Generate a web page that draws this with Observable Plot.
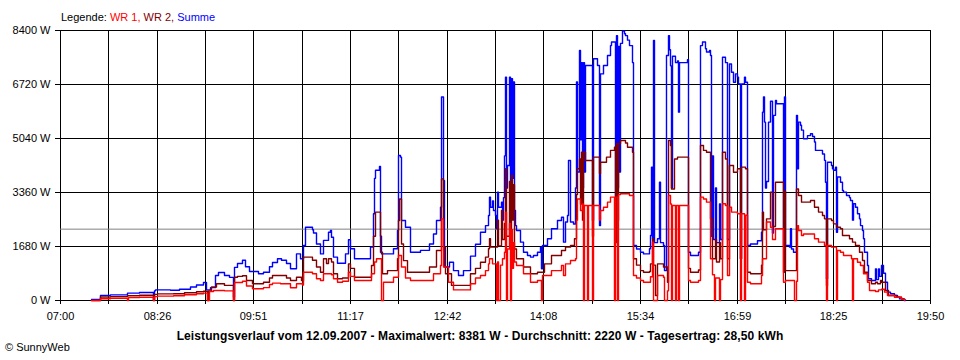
<!DOCTYPE html>
<html>
<head>
<meta charset="utf-8">
<script src="https://cdn.jsdelivr.net/npm/d3@7"></script>
<script src="https://cdn.jsdelivr.net/npm/@observablehq/plot@0.6"></script>
<style>
  body { margin: 0; background: #fff; }
  #wrap { position: relative; width: 960px; height: 360px; font-family: "Liberation Sans", Arial, sans-serif; color: #000; }
  #wrap svg { position: absolute; left: 0; top: 0; }
  #legend { position: absolute; left: 61px; top: 11px; font-size: 11px; line-height: 13px; white-space: nowrap; }
  #caption { position: absolute; left: 0; width: 960px; top: 329px; text-align: center; font-weight: bold; font-size: 12px; line-height: 14px; letter-spacing: 0.1px; white-space: nowrap; }
  #copy { position: absolute; left: 5px; top: 341px; font-size: 11px; line-height: 13px; }
</style>
</head>
<body>
<div id="wrap">
  <div id="legend"></div>
  <div id="caption"></div>
  <div id="copy"></div>
</div>
<script>
// ---- Data (time of day, watts) ----
const summe = [["07:27",30],["07:35",160],["07:44",175],["07:59",230],["08:10",250],["08:22",30],["08:23",300],["08:24",330],["08:37",320],["08:45",350],["08:55",420],["09:00",480],["09:07",560],["09:09",330],["09:13",400],["09:17",780],["09:20",870],["09:25",780],["09:30",720],["09:33",100],["09:34",1030],["09:37",1150],["09:41",1250],["09:44",1050],["09:47",900],["09:55",830],["10:00",880],["10:05",1050],["10:08",1180],["10:12",1300],["10:16",1250],["10:20",1150],["10:24",990],["10:29",1450],["10:32",1300],["10:35",1710],["10:37",2280],["10:43",2200],["10:44",2100],["10:47",1760],["10:50",1450],["10:53",1870],["10:57",2125],["10:59",2180],["11:00",1970],["11:02",1350],["11:05",1160],["11:10",1160],["11:12",1450],["11:15",1890],["11:17",1610],["11:20",1300],["11:31",1300],["11:34",1660],["11:37",2700],["11:38",3800],["11:39",4050],["11:42",4170],["11:43",2000],["11:44",1450],["11:49",1450],["11:55",1610],["11:58",2180],["11:59",4510],["12:01",4460],["12:02",2490],["12:05",2280],["12:10",1500],["12:19",1560],["12:27",1760],["12:30",2070],["12:33",2490],["12:36",2900],["12:37",6330],["12:39",3730],["12:40",1040],["12:44",1190],["12:48",930],["12:52",780],["12:57",930],["13:03",1380],["13:07",1750],["13:12",2125],["13:16",2330],["13:19",2645],["13:20",3215],["13:21",2900],["13:22",3100],["13:23",2800],["13:25",2645],["13:26",2230],["13:27",3370],["13:28",2900],["13:30",3060],["13:31",2500],["13:32",3200],["13:33",4500],["13:34",6950],["13:35",3500],["13:36",4200],["13:37",6950],["13:38",3000],["13:39",6900],["13:40",3800],["13:41",6800],["13:42",2800],["13:43",2330],["13:44",2180],["13:47",1815],["13:50",1500],["13:53",1400],["13:56",1350],["13:59",1400],["14:02",1500],["14:05",1660],["14:06",985],["14:07",1710],["14:11",1920],["14:15",2230],["14:20",2490],["14:23",2590],["14:25",1815],["14:27",2440],["14:29",2645],["14:30",4355],["14:31",2440],["14:34",2380],["14:36",3500],["14:37",6800],["14:38",4000],["14:39",7780],["14:40",5000],["14:41",7400],["14:42",3500],["14:43",7400],["14:44",4000],["14:45",7310],["14:50",7310],["14:51",2500],["14:52",7520],["14:55",7310],["14:57",2330],["14:58",7050],["15:01",7310],["15:04",7620],["15:07",7930],["15:08",8040],["15:10",8040],["15:11",2000],["15:12",8240],["15:13",3500],["15:14",7900],["15:15",4000],["15:16",8000],["15:17",8381],["15:19",8300],["15:20",8240],["15:22",8100],["15:24",7930],["15:26",7400],["15:27",1710],["15:30",1600],["15:33",1500],["15:36",1450],["15:41",1610],["15:42",2020],["15:43",4150],["15:44",1920],["15:45",8090],["15:46",1800],["15:48",1920],["15:50",3680],["15:51",1800],["15:54",1710],["15:55",930],["15:56",7620],["15:58",8240],["15:59",7800],["16:00",7300],["16:01",3500],["16:02",7600],["16:04",7400],["16:06",7450],["16:07",5860],["16:08",7400],["16:15",7490],["16:16",1500],["16:18",1400],["16:25",1500],["16:26",7930],["16:28",8040],["16:31",7830],["16:32",7730],["16:34",7780],["16:35",7620],["16:36",2000],["16:37",4500],["16:38",1900],["16:40",3500],["16:41",1800],["16:43",3000],["16:44",1900],["16:46",7570],["16:49",7400],["16:50",1900],["16:52",7360],["16:54",7100],["16:56",6790],["16:57",7050],["16:59",6950],["17:00",6740],["17:02",1300],["17:03",6740],["17:05",6950],["17:06",6790],["17:08",1710],["17:11",1760],["17:14",1760],["17:17",1860],["17:20",2125],["17:21",5860],["17:22",6330],["17:23",5550],["17:24",3500],["17:25",3700],["17:27",5550],["17:28",6200],["17:30",2100],["17:31",5760],["17:33",6220],["17:34",6120],["17:39",6120],["17:40",1710],["17:41",6330],["17:42",1710],["17:45",1660],["17:46",2230],["17:47",1600],["17:49",1500],["17:51",5760],["17:52",4100],["17:53",5550],["17:55",5450],["17:56",5300],["17:58",5030],["18:01",5130],["18:04",5190],["18:06",5100],["18:07",4930],["18:08",4670],["18:13",4670],["18:14",4560],["18:16",4360],["18:17",3680],["18:18",675],["18:19",4300],["18:22",4200],["18:23",4100],["18:24",4050],["18:26",4150],["18:27",2125],["18:28",3840],["18:30",3680],["18:32",3420],["18:33",3370],["18:36",3265],["18:38",3200],["18:39",3110],["18:41",2500],["18:42",3010],["18:44",2900],["18:45",2700],["18:47",2540],["18:48",2330],["18:50",2180],["18:51",1920],["18:52",1500],["18:54",1090],["18:55",675],["18:58",620],["19:01",985],["19:02",650],["19:04",985],["19:05",750],["19:07",1090],["19:08",850],["19:10",570],["19:12",260],["19:15",210],["19:18",155],["19:21",105],["19:23",50],["19:26",20],["19:28",0]];

const wr2 = [["07:27",0],["07:35",110],["07:44",120],["07:59",150],["08:10",165],["08:22",0],["08:23",190],["08:26",205],["08:40",210],["08:50",240],["09:00",270],["09:07",290],["09:10",0],["09:11",300],["09:14",420],["09:18",520],["09:25",470],["09:30",470],["09:33",0],["09:34",725],["09:37",750],["09:41",770],["09:45",620],["09:50",520],["10:00",570],["10:05",700],["10:08",780],["10:15",780],["10:20",700],["10:24",620],["10:29",725],["10:33",620],["10:35",1350],["10:43",1250],["10:47",1040],["10:50",880],["10:53",1300],["10:55",1150],["10:57",1300],["11:00",1200],["11:02",830],["11:05",675],["11:10",700],["11:15",1140],["11:17",1000],["11:20",725],["11:31",725],["11:35",1090],["11:37",2000],["11:39",2750],["11:42",2750],["11:43",1500],["11:45",830],["11:49",930],["11:55",930],["11:58",1300],["11:59",2490],["12:00",3160],["12:02",1760],["12:04",1240],["12:07",880],["12:19",880],["12:27",1040],["12:33",1555],["12:37",3785],["12:39",1660],["12:41",830],["12:46",470],["12:57",470],["13:03",830],["13:07",1000],["13:12",1190],["13:16",1350],["13:19",1610],["13:20",1920],["13:21",1660],["13:25",1660],["13:27",2500],["13:28",1700],["13:30",2800],["13:31",1900],["13:33",2400],["13:34",4100],["13:35",2000],["13:37",3700],["13:38",2200],["13:39",3900],["13:40",2500],["13:41",3600],["13:42",1600],["13:44",1300],["13:50",1040],["13:56",830],["14:02",880],["14:08",1140],["14:15",1400],["14:23",1555],["14:27",1660],["14:31",1710],["14:35",1920],["14:37",3300],["14:38",4100],["14:39",4400],["14:40",3000],["14:41",4610],["14:42",2500],["14:43",4610],["14:45",4355],["14:51",2000],["14:52",4460],["14:57",3940],["14:58",4300],["15:03",4460],["15:07",4670],["15:10",4770],["15:11",1800],["15:12",4875],["15:13",2500],["15:14",4875],["15:16",4980],["15:20",4900],["15:22",4770],["15:26",4610],["15:27",1300],["15:30",1100],["15:33",930],["15:36",880],["15:41",900],["15:42",1140],["15:44",1920],["15:45",1100],["15:47",155],["15:48",1140],["15:54",1040],["15:57",570],["15:58",4980],["16:00",4820],["16:01",3470],["16:03",4400],["16:06",4460],["16:16",1000],["16:18",880],["16:25",950],["16:26",4820],["16:29",4670],["16:32",4610],["16:35",2540],["16:37",1300],["16:40",1900],["16:41",1200],["16:43",1800],["16:44",1300],["16:46",4610],["16:49",4400],["16:50",1300],["16:52",4200],["16:56",3990],["16:59",4100],["17:02",1300],["17:03",4150],["17:06",4100],["17:08",880],["17:11",830],["17:17",830],["17:20",1100],["17:21",2750],["17:22",2200],["17:25",2540],["17:28",3370],["17:30",2300],["17:33",3680],["17:40",880],["17:41",3400],["17:42",930],["17:51",3470],["17:53",3265],["17:56",3060],["18:04",3110],["18:07",2900],["18:11",2750],["18:14",2645],["18:16",2540],["18:18",470],["18:19",2540],["18:22",2490],["18:24",2385],["18:27",2280],["18:30",2230],["18:32",2020],["18:38",1920],["18:41",1815],["18:44",1710],["18:47",1500],["18:50",1245],["18:52",880],["18:54",620],["18:58",520],["19:01",570],["19:03",520],["19:06",620],["19:07",570],["19:10",310],["19:13",155],["19:20",100],["19:24",50],["19:27",0]];

const wr1 = [["07:27",0],["07:35",55],["07:44",70],["07:59",0],["08:00",90],["08:10",100],["08:22",0],["08:23",120],["08:26",135],["08:40",150],["08:50",180],["09:00",210],["09:07",228],["09:10",0],["09:12",280],["09:15",310],["09:25",300],["09:33",0],["09:34",560],["09:41",600],["09:45",450],["09:50",364],["10:00",400],["10:05",500],["10:08",540],["10:15",520],["10:24",395],["10:29",520],["10:34",480],["10:35",880],["10:43",830],["10:47",675],["10:50",620],["10:53",830],["11:00",800],["11:02",675],["11:05",570],["11:10",600],["11:15",880],["11:17",750],["11:20",620],["11:31",620],["11:35",830],["11:38",1200],["11:40",1300],["11:43",1300],["11:44",0],["11:46",570],["11:55",725],["11:59",1400],["12:02",1040],["12:05",700],["12:10",620],["12:19",620],["12:30",830],["12:36",1090],["12:37",2540],["12:39",1040],["12:43",570],["12:48",330],["12:57",330],["13:03",520],["13:07",700],["13:12",780],["13:16",930],["13:19",1140],["13:20",1300],["13:22",1140],["13:26",0],["13:27",1200],["13:28",0],["13:29",1100],["13:31",1300],["13:33",1500],["13:34",2750],["13:35",0],["13:36",1600],["13:37",2400],["13:38",0],["13:39",2200],["13:40",1000],["13:41",1800],["13:42",1200],["13:44",1090],["13:50",830],["13:56",570],["14:02",620],["14:06",0],["14:07",780],["14:15",930],["14:23",1090],["14:25",780],["14:27",1140],["14:31",1245],["14:36",1300],["14:37",2500],["14:38",3160],["14:40",2800],["14:42",3000],["14:43",0],["14:44",2955],["14:46",0],["14:47",2955],["14:51",0],["14:52",2955],["14:57",2500],["14:58",2800],["15:01",2900],["15:04",3060],["15:07",3215],["15:10",0],["15:11",3215],["15:13",0],["15:14",3300],["15:16",3320],["15:24",3265],["15:27",780],["15:30",700],["15:33",620],["15:36",570],["15:42",740],["15:44",1815],["15:45",0],["15:48",780],["15:54",725],["15:55",0],["15:57",300],["15:58",3265],["16:00",3000],["16:01",0],["16:02",2955],["16:04",0],["16:05",2955],["16:07",0],["16:08",2955],["16:16",620],["16:18",570],["16:25",620],["16:26",3215],["16:29",3160],["16:32",3060],["16:35",1300],["16:37",800],["16:39",0],["16:40",700],["16:43",0],["16:44",650],["16:46",3010],["16:49",2955],["16:50",780],["16:52",2900],["16:54",2750],["16:59",2700],["17:02",0],["17:03",2700],["17:05",0],["17:06",2650],["17:08",570],["17:11",520],["17:17",520],["17:20",780],["17:21",1300],["17:25",2440],["17:28",2280],["17:30",1900],["17:33",2230],["17:40",570],["17:42",620],["17:49",620],["17:50",0],["17:51",600],["17:52",2330],["17:53",2180],["17:56",2020],["17:58",2070],["18:07",1920],["18:11",1815],["18:16",1710],["18:18",0],["18:19",1710],["18:22",1660],["18:27",0],["18:28",1555],["18:30",1500],["18:33",1400],["18:40",1300],["18:41",0],["18:42",1300],["18:45",1190],["18:48",1090],["18:51",830],["18:54",570],["18:56",310],["19:01",280],["19:04",330],["19:07",350],["19:09",260],["19:12",155],["19:18",100],["19:24",40],["19:27",0]];

const xTickLabels = ["07:00","08:26","09:51","11:17","12:42","14:08","15:34","16:59","18:25","19:50"];
const yTicks = [0, 1680, 3360, 5040, 6720, 8400];
const averageW = 2220;
const legendParts = [["Legende: ", "#000000"], ["WR 1, ", "#ff0000"], ["WR 2, ", "#800000"], ["Summe", "#0000ff"]];
const captionText = "Leistungsverlauf vom 12.09.2007 - Maximalwert: 8381 W - Durchschnitt: 2220 W - Tagesertrag: 28,50 kWh";
const copyText = "\u00A9 SunnyWeb";

// ---- Build ----
const toMin = s => { const [h, m] = s.split(":").map(Number); return h * 60 + m; };
const rows = arr => arr.map(([t, v]) => ({t: toMin(t), v}));
const start = toMin(xTickLabels[0]);
const end = toMin(xTickLabels[xTickLabels.length - 1]);
const nGrid = (xTickLabels.length - 1) * 2;
const xGrid = d3.range(nGrid + 1).map(i => start + i * (end - start) / nGrid);

const chart = Plot.plot({
  width: 960,
  height: 360,
  marginLeft: 60,
  marginRight: 30,
  marginTop: 30,
  marginBottom: 60,
  x: {domain: [start, end], round: true},
  y: {domain: [yTicks[0], yTicks[yTicks.length - 1]]},
  style: {fontFamily: "'Liberation Sans', Arial, sans-serif", fontSize: "11px", color: "#000", background: "transparent", overflow: "visible"},
  marks: [
    Plot.ruleX(xGrid, {stroke: "#000", strokeWidth: 1}),
    Plot.ruleY(yTicks, {stroke: "#000", strokeWidth: 1}),
    Plot.ruleY([averageW], {stroke: "#808080", strokeWidth: 1}),
    Plot.line(rows(summe), {x: "t", y: "v", stroke: "#0000ff", strokeWidth: 1.4, curve: "step-after"}),
    Plot.line(rows(wr2), {x: "t", y: "v", stroke: "#800000", strokeWidth: 1.4, curve: "step-after"}),
    Plot.line(rows(wr1), {x: "t", y: "v", stroke: "#ff0000", strokeWidth: 1.4, curve: "step-after"}),
    Plot.axisX({ticks: xGrid, tickSize: 4, tickPadding: 8, label: null,
      tickFormat: d => { const i = xGrid.indexOf(d); return i % 2 === 0 ? xTickLabels[i / 2] : ""; }}),
    Plot.axisY({ticks: yTicks, tickSize: 5, tickPadding: 5, label: null, tickFormat: d => d + " W"})
  ]
});

const wrap = document.getElementById("wrap");
wrap.insertBefore(chart, wrap.firstChild);

const legend = document.getElementById("legend");
for (const [txt, col] of legendParts) {
  const s = document.createElement("span");
  s.textContent = txt;
  s.style.color = col;
  s.style.whiteSpace = "pre";
  legend.appendChild(s);
}
document.getElementById("caption").textContent = captionText;
document.getElementById("copy").textContent = copyText;
</script>
</body>
</html>
